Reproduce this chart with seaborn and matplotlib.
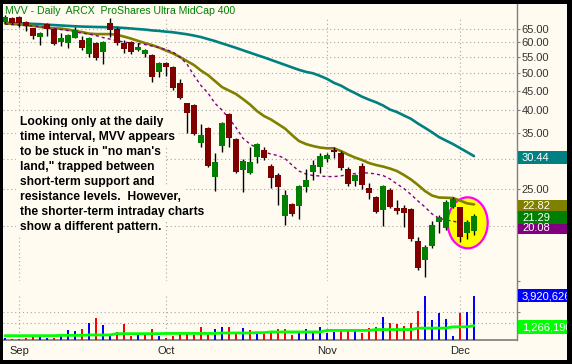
import numpy as np
import pandas as pd
import matplotlib
matplotlib.use("Agg")
import matplotlib.pyplot as plt
import seaborn as sns
from matplotlib.patches import Rectangle, Ellipse
from matplotlib.transforms import IdentityTransform, ScaledTranslation, blended_transform_factory
from matplotlib.ticker import FixedLocator, NullLocator, FixedFormatter

# ---------------- data ----------------
title = "MVV - Daily  ARCX  ProShares Ultra MidCap 400"
note_lines = [
    "Looking only at the daily",
    "time interval, MVV appears",
    "to be stuck in \"no man's",
    "land,\" trapped between",
    "short-term support and",
    "resistance levels.  However,",
    "the shorter-term intraday charts",
    "show a different pattern.",
]

opens = [67.9, 69.3, 69.95, 67.9, 65.27, 61.85, 66.97, 64.88, 60.26, 59.9,
         61.7, 60.87, 55.89, 59.68, 56.56, 67.5, 64.88, 59.9, 60.26, 57.34,
         55.98, 55.65, 50.37, 53.16, 51.9, 47.17, 41.71, 41.29, 32.85, 35.93,
         26.91, 32.33, 39.13, 33.65, 28.01, 27.56, 30.22, 31.56, 28.69, 27.19,
         21.29, 22.82, 22.64, 25.35, 27.73, 28.57, 29.91, 31.56, 31.06, 28.13,
         26.28, 28.69, 25.11, 23.8, 22.06, 24.86, 22.28, 22.39, 22.15, 18.36,
         16.37, 17.8, 20.57, 19.78, 22.5, 22.42, 19.27, 19.5]
highs = [70.5, 69.8, 70.3, 68.2, 65.5, 63.8, 67.25, 65.0, 63.35, 63.0,
         65.66, 62.34, 62.0, 60.0, 60.5, 69.3, 65.9, 60.87, 60.5, 59.68,
         57.6, 56.0, 53.4, 53.4, 52.1, 48.14, 41.9, 41.5, 36.8, 36.28,
         31.06, 37.4, 39.4, 33.9, 29.91, 32.19, 32.9, 32.08, 29.03, 27.56,
         24.86, 23.0, 25.6, 28.13, 29.74, 31.06, 30.95, 32.1, 31.3, 28.57,
         27.4, 29.2, 25.87, 24.0, 25.6, 25.1, 23.42, 22.73, 22.3, 18.81,
         17.9, 20.7, 21.4, 23.42, 23.8, 22.5, 20.8, 21.5]
lows = [67.5, 67.2, 65.66, 64.35, 61.23, 59.08, 62.45, 59.1, 58.73, 57.93,
        61.5, 57.34, 54.89, 54.02, 52.65, 62.08, 59.08, 56.42, 55.89, 57.0,
        54.89, 47.46, 48.72, 49.1, 45.16, 42.7, 35.0, 34.5, 32.19, 28.5,
        24.75, 31.25, 32.08, 27.56, 24.61, 27.3, 29.26, 29.74, 25.2, 22.73,
        20.17, 21.3, 20.91, 24.61, 26.39, 27.46, 29.44, 30.07, 28.01, 25.46,
        25.46, 24.96, 23.52, 21.63, 20.05, 22.3, 21.55, 19.97, 18.36, 15.42,
        14.81, 17.6, 19.27, 19.6, 22.3, 18.19, 18.52, 19.0]
closes = [69.95, 67.5, 67.25, 66.2, 62.45, 63.35, 64.88, 59.33, 61.49, 62.71,
          64.61, 57.93, 61.7, 54.57, 60.26, 64.61, 59.68, 57.69, 56.56, 58.48,
          57.34, 48.72, 53.16, 51.9, 45.62, 42.98, 39.44, 34.73, 34.6, 28.69,
          29.44, 37.15, 33.85, 27.73, 29.56, 29.44, 32.71, 30.14, 26.75, 25.35,
          24.13, 21.5, 25.46, 26.39, 28.86, 30.45, 30.64, 31.19, 28.4, 25.77,
          27.19, 25.62, 24.46, 21.84, 25.46, 22.5, 21.93, 21.63, 18.52, 15.57,
          17.66, 20.17, 21.2, 23.18, 23.52, 18.74, 20.57, 21.29]

ma_50 = [67.5, 67.37, 67.29, 67.17, 67.05, 66.93, 66.73, 66.57, 66.41, 66.25,
         66.1, 65.98, 65.9, 65.82, 65.78, 65.7, 65.62, 65.43, 65.23, 65.0,
         64.81, 64.49, 64.3, 64.0, 63.77, 63.39, 63.01, 62.52, 61.97, 61.23,
         60.51, 59.68, 58.9, 58.1, 57.27, 56.46, 55.65, 54.89, 54.08, 53.28,
         52.49, 51.71, 50.95, 50.34, 49.92, 49.15, 48.28, 47.15, 46.37, 45.27,
         44.36, 43.41, 42.65, 41.99, 41.19, 40.2, 39.6, 38.79, 38.03, 36.97,
         36.04, 35.1, 34.11, 33.4, 32.71, 31.94, 31.19, 30.44]
ma_20 = [67.25, 67.05, 66.85, 66.57, 66.25, 65.86, 65.47, 65.27, 65.2, 64.81,
         64.3, 63.84, 63.27, 63.08, 63.08, 63.08, 62.79, 62.15, 61.42, 60.58,
         59.79, 59.08, 58.21, 57.17, 56.22, 54.99, 53.7, 52.43, 50.73, 49.39,
         47.65, 45.97, 45.03, 44.1, 42.8, 41.42, 39.84, 38.67, 37.87, 36.87,
         35.89, 34.52, 33.31, 32.71, 32.33, 32.04, 31.89, 31.89, 31.38, 30.73,
         30.18, 29.74, 29.21, 28.86, 28.6, 28.26, 27.84, 27.19, 26.47, 25.62,
         24.71, 24.06, 23.77, 23.74, 23.7, 23.35, 22.96, 22.82]
ma_10 = [66.97, 66.77, 66.57, 66.37, 66.18, 65.98, 65.59, 65.2, 64.81, 64.42,
         63.84, 63.46, 63.08, 62.52, 61.78, 61.23, 60.68, 60.14, 59.79, 59.61,
         59.26, 58.73, 58.21, 57.52, 56.67, 54.99, 52.74, 49.24, 46.39, 44.36,
         41.71, 40.08, 38.1, 36.1, 33.85, 32.71, 31.94, 31.19, 30.82, 30.54,
         30.0, 28.86, 27.84, 27.35, 27.11, 27.03, 26.94, 26.94, 27.05, 27.27,
         27.43, 27.56, 27.51, 27.35, 27.11, 26.55, 25.77, 25.08, 24.2, 23.28,
         22.46, 21.55, 21.0, 20.78, 20.66, 20.41, 20.17, 20.08]

volumes = [205000, 89000, 89000, 178000, 356000, 267000, 205000, 178000, 561000, 891000,
           802000, 1007000, 1515000, 1898000, 1363000, 356000, 713000, 1426000, 356000, 561000,
           624000, 980000, 356000, 178000, 356000, 713000, 624000, 446000, 1158000, 446000,
           980000, 1158000, 1158000, 713000, 1069000, 891000, 520000, 561000, 802000, 953000,
           953000, 446000, 713000, 953000, 713000, 1158000, 650000, 713000, 864000, 864000,
           802000, 624000, 1069000, 1158000, 2049000, 1515000, 1426000, 1247000, 1515000, 2584000,
           3900000, 1782000, 2406000, 1871000, 356000, 2406000, 2495000, 3920626]
vol_ma = [380000, 380000, 380000, 380000, 380000, 380000, 380000, 380000, 410000, 410000,
          410000, 410000, 445000, 445000, 445000, 445000, 560000, 560000, 560000, 560000,
          560000, 560000, 560000, 580000, 580000, 580000, 580000, 580000, 580000, 580000,
          580000, 620000, 620000, 620000, 620000, 620000, 650000, 650000, 710000, 710000,
          710000, 710000, 710000, 710000, 710000, 710000, 845000, 845000, 845000, 845000,
          845000, 845000, 845000, 920000, 920000, 920000, 920000, 920000, 920000, 1050000,
          1050000, 1050000, 1050000, 1050000, 1160000, 1160000, 1160000, 1266190]

price_ticks = [65, 60, 55, 50, 45, 40, 35, 30, 25, 20]
vol_grid = [1500000, 2500000]
month_labels = ["Sep", "Oct", "Nov", "Dec"]
holidays = ["2008-09-01", "2008-11-27"]

# ---------------- style ----------------
sns.set_theme(style="white")
plt.rcParams["font.family"] = ["Liberation Sans", "DejaVu Sans"]

CREAM = "#FFFBF0"
GRID = "#A8A8A8"
AXC = "#808080"
W, H, DPI = 572, 364, 100

o = np.array(opens); h = np.array(highs); l = np.array(lows); c = np.array(closes)
n = len(c)
x = np.arange(n)

days = pd.bdate_range("2008-08-28", "2008-12-19")
days = days[~days.isin(pd.to_datetime(holidays))]
XMIN, XMAX = -2 / 7, 512 / 7
ext_idx = np.arange(len(days))
week = days.isocalendar().week.values
week_first = [i for i in ext_idx[1:] if week[i] != week[i - 1] and i <= XMAX]
month_first = [i for i in ext_idx[1:] if days[i].month != days[i - 1].month and i < n]

fig = plt.figure(figsize=(W / DPI, H / DPI), dpi=DPI)
fig.patch.set_facecolor("black")
fig.add_artist(Rectangle((3, 4), 564, 356, transform=IdentityTransform(),
                         facecolor=CREAM, edgecolor="none", zorder=-10))

ax = fig.add_axes([3 / W, 83 / H, 514 / W, 277 / H])
axv = fig.add_axes([3 / W, 24 / H, 514 / W, 59 / H])
for a in (ax, axv):
    a.set_facecolor(CREAM)
    for s in ("left", "top"):
        a.spines[s].set_visible(False)
    a.spines["right"].set_color(AXC)
    a.spines["right"].set_linewidth(1.0)
    a.set_xlim(XMIN, XMAX)
ax.spines["bottom"].set_visible(False)
axv.spines["bottom"].set_color(AXC)

# ---------------- price panel ----------------
ax.set_yscale("log")
ax.set_ylim(14.44, 75.5)
ax.yaxis.set_major_locator(FixedLocator(price_ticks))
ax.yaxis.set_major_formatter(FixedFormatter([f"{t:.2f}" for t in price_ticks]))
ax.yaxis.set_minor_locator(NullLocator())
ax.yaxis.tick_right()
ax.tick_params(axis="y", which="major", direction="out", length=2.5, width=0.8,
               color=AXC, labelcolor="#333333", labelsize=8, pad=1)
ax.set_xticks([])
ax.grid(axis="y", linestyle=(0, (1, 2.5)), color=GRID, linewidth=0.8)
for m in month_first:
    ax.axvline(m, ymin=0, ymax=(281 - 18) / 277, linestyle=(0, (1, 2.5)),
               color=GRID, linewidth=0.8, zorder=0.5)

# highlight ellipse (behind marks)
etr = fig.dpi_scale_trans + ScaledTranslation(66.1, 20.44, ax.transData)
ax.add_patch(Ellipse((0, 0), 40 / DPI, 51 / DPI, transform=etr, facecolor="#FFFF00",
                     edgecolor="#FF00FF", linewidth=1.6, zorder=1))

sns.lineplot(x=x, y=ma_50, ax=ax, color="#008080", linewidth=1.9, zorder=2)
sns.lineplot(x=x, y=ma_20, ax=ax, color="#808000", linewidth=1.9, zorder=2)
sns.lineplot(x=x, y=ma_10, ax=ax, color="#800080", linewidth=1.0,
             linestyle=(0, (2.2, 2.2)), zorder=2)

up = c >= o
ax.vlines(x, l, h, color="black", linewidth=1.0, zorder=3)
body_lo = np.minimum(o, c)
body_h = np.maximum(np.abs(c - o), 0.05)
ax.bar(x, body_h, bottom=body_lo, width=0.8,
       color=np.where(up, "#008000", "#800000"), linewidth=0, zorder=4)
ax.set_ylabel(""); ax.set_xlabel("")
ax.set_xlim(XMIN, XMAX)

# ---------------- volume panel ----------------
vol_top = 5.2e6
axv.set_ylim(0, vol_top)
vol_up = np.concatenate([[c[0] >= o[0]], c[1:] >= c[:-1]])
axv.bar(x, volumes, width=0.38, color=np.where(vol_up, "#0000FF", "#FF0000"),
        linewidth=0, zorder=3)
sns.lineplot(x=x, y=vol_ma, ax=axv, color="#00FF00", linewidth=2.0, zorder=4)
axv.set_ylabel(""); axv.set_xlabel("")
axv.yaxis.tick_right()
axv.yaxis.set_major_locator(FixedLocator(vol_grid + [vol_top]))
axv.yaxis.set_major_formatter(FixedFormatter(["", "", ""]))
axv.tick_params(axis="y", direction="out", length=2.5, width=0.8, color=AXC)
for v in vol_grid:
    axv.axhline(v, linestyle=(0, (1, 2.5)), color=GRID, linewidth=0.8, zorder=0.5)
for m in month_first:
    axv.axvline(m, ymin=0, ymax=45 / 59, linestyle=(0, (1, 2.5)),
                color=GRID, linewidth=0.8, zorder=0.5)
axv.set_xticks(week_first)
axv.set_xticklabels([""] * len(week_first))
axv.tick_params(axis="x", which="major", direction="out", length=2.0, width=0.8, color=AXC)
axv.set_xlim(XMIN, XMAX)
mtr = blended_transform_factory(axv.transData, axv.transAxes)
for m, lab in zip(month_first, month_labels):
    axv.text(m, -11.5 / 59, lab, transform=mtr, ha="center", va="center",
             fontsize=8, color="#222222", clip_on=False)

# ---------------- value boxes on the right axis ----------------
def value_box(a, value, text, face, dy=-1.5, hgt=12.6):
    yd = a.transData.transform((0, value))[1] + dy
    x0 = a.transAxes.transform((1, 0))[0] + 1
    fig.add_artist(Rectangle((x0, yd - hgt / 2), 70, hgt, transform=IdentityTransform(),
                             facecolor=face, edgecolor="none", zorder=5))
    fig.text(x0 + 4, yd - 0.5, text, transform=IdentityTransform(), color="white",
             fontsize=8, va="center", ha="left", zorder=6)

value_box(ax, ma_50[-1], f"{ma_50[-1]:.2f}", "#008080")
value_box(ax, ma_10[-1], f"{ma_10[-1]:.2f}", "#800080")
value_box(ax, ma_20[-1], f"{ma_20[-1]:.2f}", "#808000")
value_box(ax, closes[-1], f"{closes[-1]:.2f}", "#008000")
value_box(axv, volumes[-1], f"{volumes[-1]:,}", "#0000FF", dy=0, hgt=13.5)
value_box(axv, vol_ma[-1], f"{vol_ma[-1]:,}", "#00FF00", dy=-1.5, hgt=13.5)

# ---------------- texts ----------------
renderer = fig.canvas.get_renderer()

def fit_text(t, target_w):
    w = t.get_window_extent(renderer).width
    t.set_fontsize(t.get_fontsize() * target_w / w)

tt = fig.text(5 / W, 1 - 11.5 / H, title, color="#008000", fontsize=8,
              va="center", ha="left", zorder=6)
fit_text(tt, 232)

note_objs = []
for k, line in enumerate(note_lines):
    t = fig.text(20 / W, 1 - (121.7 + 15 * k) / H, line, color="black", fontsize=7.6,
                 fontweight="bold", va="center", ha="left", zorder=6,
                 bbox=dict(boxstyle="square,pad=0.3", facecolor=CREAM, edgecolor="none"))
    note_objs.append(t)
w_ref = note_objs[6].get_window_extent(renderer).width
scale = 182 / w_ref
for t in note_objs:
    t.set_fontsize(t.get_fontsize() * scale)

# ---------------- black frame ----------------
for rx, ry, rw, rh in [(0, 0, 3, H), (567, 0, 5, H), (0, 360, W, 4), (0, 0, W, 4)]:
    fig.add_artist(Rectangle((rx, ry), rw, rh, transform=IdentityTransform(),
                             facecolor="black", edgecolor="none", zorder=20))

fig.savefig("out.png", dpi=DPI, facecolor="black")
